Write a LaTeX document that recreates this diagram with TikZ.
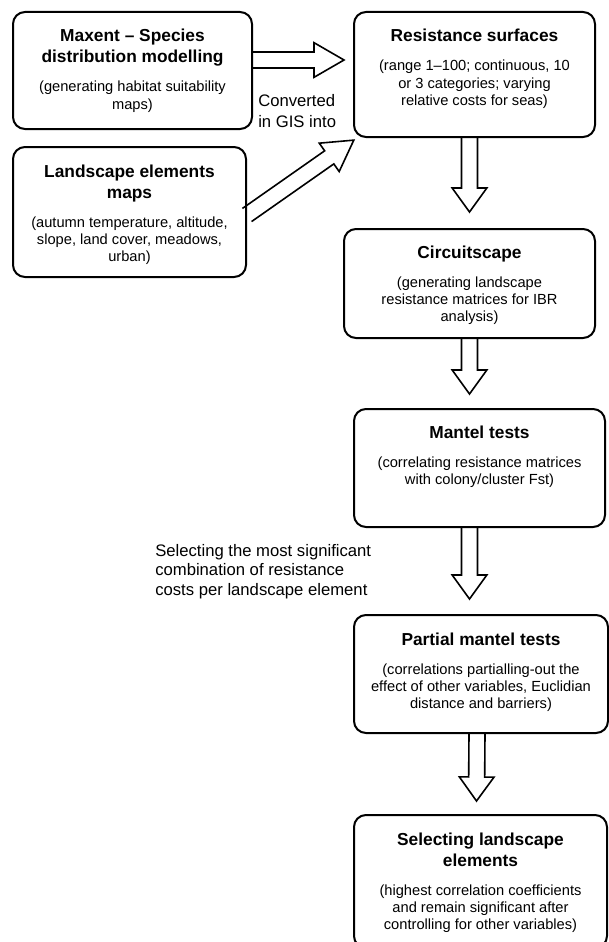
\documentclass[tikz,border=0pt]{standalone}
\usepackage{fontspec}
\setmainfont{Liberation Sans}
\usetikzlibrary{calc, positioning}

% title and note of one stage, set in a top-aligned box
\newcommand{\stagetext}[2]{\parbox[t]{220pt}{\centering
  \fontsize{13}{15.75}\selectfont\bfseries #1\par\vspace{8.65pt}
  \fontsize{11}{13.1}\selectfont\mdseries #2}}

% hollow block arrow: from, to, head length (pt)
\newcommand{\blockarrow}[3]{%
  \draw[blockline] let \p1=#1, \p2=#2,
      \n1={atan2(\y2-\y1,\x2-\x1)}, \n2={veclen(\x2-\x1,\y2-\y1)} in
    [shift={(\p1)}, rotate=\n1]
    (0pt,6pt) -- (\n2-#3pt,6pt) -- (\n2-#3pt,13pt) -- (\n2,0pt)
    -- (\n2-#3pt,-13pt) -- (\n2-#3pt,-6pt) -- (0pt,-6pt);}

\begin{document}
\begin{tikzpicture}[x=0.75pt, y=-0.75pt,
    stage/.style={draw, line width=1.5pt, rounded corners=9pt, inner sep=0pt},
    stagetxt/.style={anchor=base, inner sep=0pt},
    note/.style={anchor=north west, inner sep=0pt, align=left},
    blockline/.style={line width=1.2pt, line join=miter}]
    \path[use as bounding box] (0,0) rectangle (609,942);

    % Boxes
    \node[stage, minimum width=179.25pt, minimum height=87.75pt] (maxent) at (132.5,70.5) {};
    \node[stage, minimum width=174.75pt, minimum height=97.5pt] (landscape) at (129.5,212) {};
    \node[stage, minimum width=180.75pt, minimum height=93.75pt] (resist) at (474.5,74.5) {};
    \node[stage, minimum width=188.25pt, minimum height=81.75pt] (circuit) at (469.5,283.5) {};
    \node[stage, minimum width=188.25pt, minimum height=88.5pt] (mantel) at (479.5,468) {};
    \node[stage, minimum width=190.5pt, minimum height=88.5pt] (partial) at (481,674) {};
    \node[stage, minimum width=189.75pt, minimum height=99.75pt] (select) at (480.5,881.5) {};

    % Box texts
    \node[stagetxt] (maxent-txt) at ($(maxent.north)+(0,31)$)
        {\stagetext{Maxent – Species\\distribution modelling}{(generating habitat suitability\\maps)}};
    \node[stagetxt] (landscape-txt) at ($(landscape.north)+(0,31)$)
        {\stagetext{Landscape elements\\maps}{(autumn temperature, altitude,\\slope, land cover, meadows,\\urban)}};
    \node[stagetxt] (resist-txt) at ($(resist.north)+(0,31)$)
        {\stagetext{Resistance surfaces}{(range 1–100; continuous, 10\\or 3 categories; varying\\relative costs for seas)}};
    \node[stagetxt] (circuit-txt) at ($(circuit.north)+(0,30)$)
        {\stagetext{Circuitscape}{(generating landscape\\resistance matrices for IBR\\analysis)}};
    \node[stagetxt] (mantel-txt) at ($(mantel.north)+(0,30)$)
        {\stagetext{Mantel tests}{(correlating resistance matrices\\with colony/cluster Fst)}};
    \node[stagetxt] (partial-txt) at ($(partial.north)+(0,31)$)
        {\stagetext{Partial mantel tests}{(correlations partialling-out the\\effect of other variables, Euclidian\\distance and barriers)}};
    \node[stagetxt] (select-txt) at ($(select.north)+(0,31)$)
        {\stagetext{Selecting landscape\\elements}{(highest correlation coefficients\\and remain significant after\\controlling for other variables)}};

    % Side notes
    \node[note, font=\fontsize{12.5}{16}\selectfont] (gis) at (258,94) {Converted\\in GIS into};
    \node[note, font=\fontsize{12.5}{14.6}\selectfont] (costs) at (155,544)
        {Selecting the most significant\\combination of resistance\\costs per landscape element};

    % Block arrows
    \blockarrow{($(maxent.east)+(0,-10.5)$)}{($(maxent.east -| resist.west)+(-9,-10.5)$)}{22.5}
    \blockarrow{($(landscape.east)+(0,3)$)}{($(resist.south west)+(1,2)$)}{22.5}
    \blockarrow{(resist.south -| circuit.north)}{($(circuit.north)+(0,-16)$)}{18}
    \blockarrow{(circuit.south)}{($(mantel.north -| circuit.south)+(0,-14)$)}{18}
    \blockarrow{(mantel.south -| circuit.south)}{($(partial.north -| circuit.south)+(0,-15)$)}{18}
    \blockarrow{($(partial.south)+(-4,0)$)}{($(select.north)+(-4,-13)$)}{18}
\end{tikzpicture}
\end{document}
